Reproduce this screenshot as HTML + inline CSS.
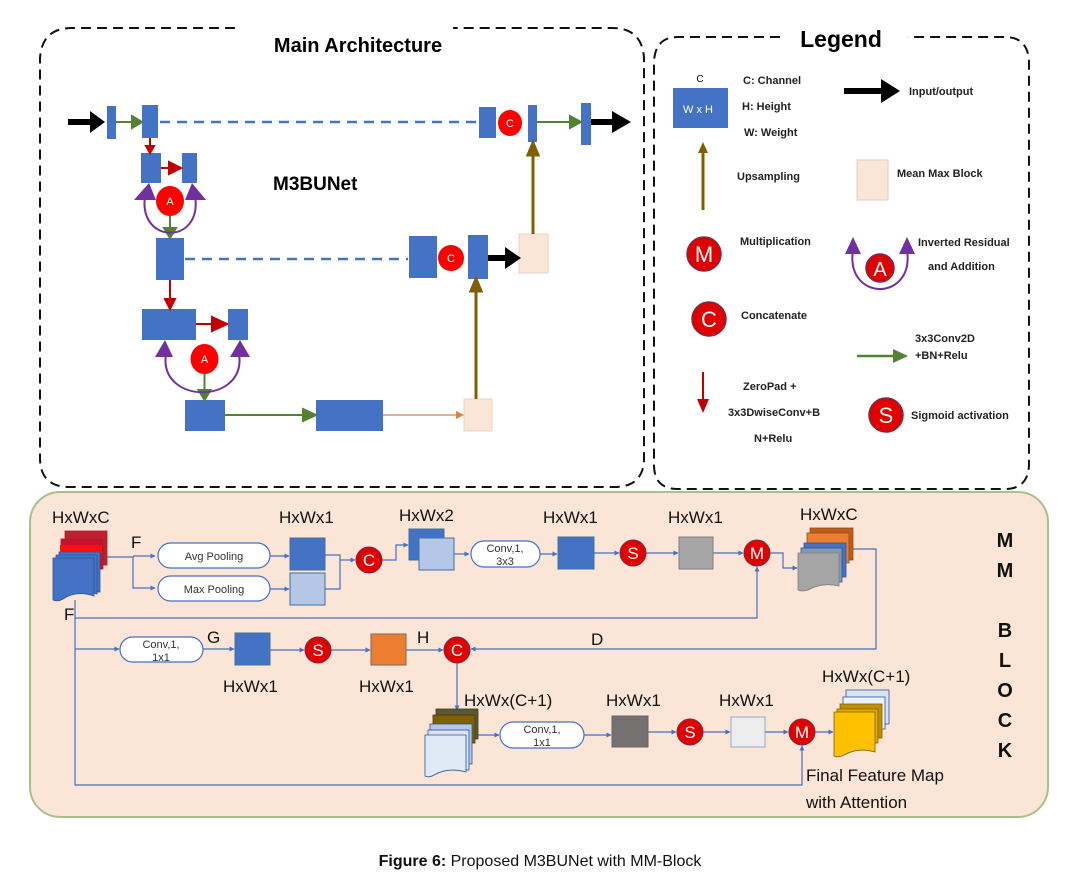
<!DOCTYPE html>
<html><head><meta charset="utf-8"><style>
html,body{margin:0;padding:0;background:#fff}
svg{display:block}
text{font-family:"Liberation Sans",sans-serif}
.b{font-weight:bold}
</style></head><body>
<svg width="1080" height="894" viewBox="0 0 1080 894" xmlns="http://www.w3.org/2000/svg">
<defs>
<marker id="ab" viewBox="0 0 10 10" refX="9" refY="5" markerWidth="5" markerHeight="5" orient="auto" markerUnits="userSpaceOnUse"><path d="M0,0L10,5L0,10z" fill="#4472c4"/></marker>
</defs>
<path d="M235,28 H72 Q42,28 40,58 V458 Q40,487 70,487 H614 Q644,487 644,458 V58 Q642,28 612,28 H453" fill="none" stroke="#111" stroke-width="2" stroke-dasharray="10,6"/>
<text x="358" y="52" text-anchor="middle" class="b" font-size="20">Main Architecture</text>
<path d="M780,37 H678 Q655,37 654,62 V465 Q654,489 678,489 H1005 Q1028,489 1029,465 V62 Q1028,37 1005,37 H908" fill="none" stroke="#111" stroke-width="2" stroke-dasharray="10,6"/>
<text x="841" y="47" text-anchor="middle" class="b" font-size="23">Legend</text>
<text x="273" y="190" class="b" font-size="19">M3BUNet</text>

<g fill="#4472c4">
<rect x="107" y="106" width="9" height="33"/>
<rect x="142" y="105" width="16" height="33"/>
<rect x="479" y="107" width="17" height="31"/>
<rect x="528" y="105" width="9" height="37"/>
<rect x="581" y="103" width="10" height="42"/>
<rect x="141" y="153" width="20" height="30"/>
<rect x="182" y="153" width="15" height="30"/>
<rect x="156" y="238" width="28" height="42"/>
<rect x="409" y="236" width="28" height="42"/>
<rect x="468" y="235" width="20" height="44"/>
<rect x="142" y="309" width="54" height="31"/>
<rect x="228" y="309" width="20" height="31"/>
<rect x="185" y="400" width="40" height="31"/>
<rect x="316" y="400" width="67" height="31"/>
</g>
<rect x="519" y="234" width="29" height="39" fill="#fbe5d6" stroke="#e8d4c4"/>
<rect x="464" y="399" width="28" height="32" fill="#fbe5d6" stroke="#e8d4c4"/>
<g stroke="#4472c4" stroke-width="2.5" stroke-dasharray="10,7">
<line x1="160" y1="122" x2="478" y2="122"/>
<line x1="185" y1="259" x2="408" y2="259"/>
</g>
<g fill="#000"><path d="M68,119H90V111L105,122L90,133V125H68z"/>
<path d="M591,119H612V111L631,122L612,133V125H591z"/>
<path d="M488,255H505V247L521,258L505,269V261H488z"/></g>
<g stroke="#548235" stroke-width="2" fill="#548235">
<line x1="116" y1="122" x2="134" y2="122"/><path d="M132,116L142,122L132,128z"/>
<line x1="537" y1="122" x2="572" y2="122"/><path d="M570,116L581,122L570,128z"/>
<line x1="170" y1="215" x2="170" y2="230"/><path d="M164,228L170,238L176,228z"/>
<line x1="204.5" y1="373" x2="204.5" y2="392"/><path d="M198.5,390L204.5,400L210.5,390z"/>
<line x1="225" y1="415" x2="305" y2="415"/><path d="M303,409L316,415L303,421z"/>
</g>
<g stroke="#c00000" stroke-width="2" fill="#c00000">
<line x1="150" y1="138" x2="150" y2="147"/><path d="M146,146L150,153L154,146z"/>
<line x1="161" y1="168" x2="170" y2="168"/><path d="M169,162L181,168L169,174z"/>
<line x1="170" y1="280" x2="170" y2="300"/><path d="M165,299L170,309L175,299z"/>
<line x1="196" y1="324" x2="214" y2="324"/><path d="M212,317L227,324L212,331z"/>
</g>
<line x1="383" y1="415" x2="458" y2="415" stroke="#c5835a" stroke-width="1.2"/><path d="M456,411L464,415L456,419z" fill="#ed7d31"/>
<g stroke="#7f6000" stroke-width="3" fill="#7f6000">
<line x1="533" y1="234" x2="533" y2="154"/><path d="M528,155L533,143L538,155z"/>
<line x1="476" y1="399" x2="476" y2="290"/><path d="M471,291L476,279L481,291z"/>
</g>
<g fill="none" stroke="#7030a0" stroke-width="2">
<path d="M145,196 C138,245 203,245 195,196"/>
<path d="M166,354 C158,405 247,405 239,354"/>
</g>
<g fill="#7030a0">
<path d="M134,200L149,183L156,200z"/><path d="M185,200L192,183L206,200z"/>
<path d="M155,357L165,340L173,357z"/><path d="M230,357L240,340L250,357z"/>
</g>
<g fill="#ff0000"><ellipse cx="170" cy="201" rx="14" ry="15"/><ellipse cx="204.5" cy="359" rx="14" ry="15"/>
<ellipse cx="510" cy="123" rx="12" ry="13"/><ellipse cx="451" cy="258" rx="13" ry="13"/></g>
<g fill="#fff" font-size="11" text-anchor="middle"><text x="170" y="205">A</text><text x="204.5" y="363">A</text><text x="510" y="127">C</text><text x="451" y="262">C</text></g>

<text x="700" y="82" font-size="10" text-anchor="middle">C</text>
<rect x="673" y="88" width="55" height="40" fill="#4472c4"/>
<text x="698" y="113" font-size="11" fill="#fff" text-anchor="middle">W x H</text>
<g class="b" font-size="11" fill="#222">
<text x="743" y="84">C: Channel</text><text x="742" y="110">H: Height</text><text x="744" y="136">W: Weight</text>
<text x="909" y="95">Input/output</text>
<text x="737" y="180">Upsampling</text>
<text x="897" y="177">Mean Max Block</text>
<text x="740" y="245">Multiplication</text>
<text x="918" y="246">Inverted Residual</text><text x="928" y="270">and Addition</text>
<text x="741" y="319">Concatenate</text>
<text x="915" y="342">3x3Conv2D</text><text x="915" y="359">+BN+Relu</text>
<text x="743" y="390">ZeroPad +</text><text x="728" y="416">3x3DwiseConv+B</text><text x="754" y="442">N+Relu</text>
<text x="911" y="419">Sigmoid activation</text>
</g>
<path d="M844,88H881V79L900,91L881,103V94H844z" fill="#000"/>
<line x1="703" y1="210" x2="703" y2="152" stroke="#7f6000" stroke-width="3"/><path d="M698,153L703,142L708,153z" fill="#7f6000"/>
<rect x="857" y="160" width="31" height="40" fill="#fbe5d6" stroke="#e0cfc2"/>
<line x1="857" y1="356" x2="895" y2="356" stroke="#548235" stroke-width="2.5"/><path d="M893,349L908,356L893,363z" fill="#548235"/>
<line x1="703" y1="372" x2="703" y2="400" stroke="#c00000" stroke-width="2"/><path d="M697,399L703,413L709,399z" fill="#c00000"/>
<path d="M853,250C845,302 915,302 907,250" fill="none" stroke="#7030a0" stroke-width="2"/>
<path d="M845,254L853,237L861,254z M899,254L907,237L915,254z" fill="#7030a0"/>
<g fill="#e00000" stroke="#7a2a4a" stroke-width="1.5">
<circle cx="704" cy="254" r="17"/><circle cx="709" cy="319" r="17"/><circle cx="880" cy="268" r="14"/><circle cx="886" cy="415" r="17"/>
</g>
<g fill="#fff" text-anchor="middle"><text x="704" y="262" font-size="22">M</text><text x="709" y="327" font-size="22">C</text><text x="880" y="276" font-size="20">A</text><text x="886" y="423" font-size="22">S</text></g>

<rect x="30" y="492" width="1018" height="325" rx="30" fill="#fbe5d6" stroke="#a9c08a" stroke-width="2"/>
<g font-size="17" fill="#111">
<text x="52" y="523">HxWxC</text><text x="279" y="523">HxWx1</text><text x="399" y="521">HxWx2</text>
<text x="543" y="523">HxWx1</text><text x="668" y="523">HxWx1</text><text x="800" y="520">HxWxC</text>
<text x="131" y="548">F</text><text x="64" y="620">F</text><text x="207" y="643">G</text><text x="417" y="643">H</text><text x="591" y="645">D</text>
<text x="223" y="692">HxWx1</text><text x="359" y="692">HxWx1</text>
<text x="464" y="706">HxWx(C+1)</text><text x="606" y="706">HxWx1</text><text x="719" y="706">HxWx1</text><text x="822" y="682">HxWx(C+1)</text>
<text x="806" y="781">Final Feature Map</text><text x="806" y="808">with Attention</text>
</g>
<g class="b" font-size="20" text-anchor="middle" fill="#111">
<text x="1005" y="547">M</text><text x="1005" y="577">M</text><text x="1005" y="637">B</text><text x="1005" y="667">L</text><text x="1005" y="697">O</text><text x="1005" y="727">C</text><text x="1005" y="757">K</text>
</g>
<g stroke="#a02030" stroke-width="0.8">
<rect x="65" y="531" width="42" height="34" fill="#c0202e"/>
<rect x="61" y="539" width="42" height="30" fill="#c8102e"/>
<rect x="60" y="545" width="42" height="8" fill="#ff1010" stroke="none"/>
</g>
<g stroke="#2f5597" stroke-width="0.8" fill="#4472c4">
<rect x="59" y="552" width="41" height="40"/>
<path d="M56,555H97V594Q80,588 66,597Q60,600 56,600z"/>
<path d="M53,558H94V596Q76,590 63,599Q58,602 53,600z"/>
</g>
<g stroke="#4472c4" stroke-width="1.2" fill="none">
<polyline points="107,557 133,557 133,588 155,588" marker-end="url(#ab)"/>
<line x1="133" y1="556" x2="155" y2="556" marker-end="url(#ab)"/>
<line x1="270" y1="556" x2="289" y2="556" marker-end="url(#ab)"/>
<line x1="270" y1="589" x2="289" y2="589" marker-end="url(#ab)"/>
<polyline points="325,555 340,555 340,589 325,589"/>
<line x1="340" y1="560" x2="355" y2="560" marker-end="url(#ab)"/>
<polyline points="382,560 396,560 396,545 408,545" marker-end="url(#ab)"/>
<line x1="454" y1="554" x2="469" y2="554" marker-end="url(#ab)"/>
<line x1="540" y1="554" x2="557" y2="554" marker-end="url(#ab)"/>
<line x1="594" y1="553" x2="619" y2="553" marker-end="url(#ab)"/>
<line x1="646" y1="553" x2="678" y2="553" marker-end="url(#ab)"/>
<line x1="713" y1="553" x2="743" y2="553" marker-end="url(#ab)"/>
<polyline points="770,553 783,553 783,568 797,568" marker-end="url(#ab)"/>
<polyline points="853,549 876,549 876,649 471,649" marker-end="url(#ab)"/>
<polyline points="75,600 75,785 802,785 802,746" marker-end="url(#ab)"/>
<polyline points="75,618 757,618 757,567" marker-end="url(#ab)"/>
<line x1="75" y1="649" x2="119" y2="649" marker-end="url(#ab)"/>
<line x1="203" y1="649" x2="234" y2="649" marker-end="url(#ab)"/>
<line x1="270" y1="650" x2="304" y2="650" marker-end="url(#ab)"/>
<line x1="331" y1="650" x2="370" y2="650" marker-end="url(#ab)"/>
<line x1="406" y1="650" x2="443" y2="650" marker-end="url(#ab)"/>
<line x1="457" y1="663" x2="457" y2="710" marker-end="url(#ab)"/>
<line x1="478" y1="735" x2="499" y2="735" marker-end="url(#ab)"/>
<line x1="584" y1="735" x2="611" y2="735" marker-end="url(#ab)"/>
<line x1="648" y1="732" x2="676" y2="732" marker-end="url(#ab)"/>
<line x1="703" y1="732" x2="730" y2="732" marker-end="url(#ab)"/>
<line x1="765" y1="732" x2="788" y2="732" marker-end="url(#ab)"/>
<line x1="815" y1="732" x2="833" y2="732" marker-end="url(#ab)"/>
</g>
<g fill="#fff" stroke="#4472c4" stroke-width="1.2">
<rect x="158" y="543" width="112" height="25" rx="12.5"/>
<rect x="158" y="576" width="112" height="25" rx="12.5"/>
<rect x="471" y="541" width="69" height="26" rx="13"/>
<rect x="120" y="637" width="83" height="25" rx="12.5"/>
<rect x="500" y="722" width="84" height="26" rx="13"/>
</g>
<g font-size="11" text-anchor="middle" fill="#333">
<text x="214" y="560">Avg Pooling</text><text x="214" y="593">Max Pooling</text>
<text x="505" y="552">Conv,1,</text><text x="505" y="565">3x3</text>
<text x="161" y="648">Conv,1,</text><text x="161" y="661">1x1</text>
<text x="542" y="733">Conv,1,</text><text x="542" y="746">1x1</text>
</g>
<g stroke="#41719c" stroke-width="1">
<rect x="290" y="538" width="35" height="32" fill="#4472c4"/>
<rect x="290" y="573" width="35" height="32" fill="#b4c7e7"/>
<rect x="409" y="529" width="35" height="31" fill="#4472c4"/>
<rect x="419" y="538" width="35" height="32" fill="#b4c7e7"/>
<rect x="558" y="537" width="36" height="32" fill="#4472c4"/>
<rect x="679" y="537" width="34" height="32" fill="#a5a5a5" stroke="#7f7f7f"/>
<rect x="235" y="633" width="35" height="32" fill="#4472c4"/>
<rect x="371" y="634" width="35" height="31" fill="#ed7d31" stroke="#7f6a5a"/>
<rect x="612" y="716" width="36" height="31" fill="#767171" stroke="#666"/>
<rect x="731" y="717" width="34" height="30" fill="#ededed" stroke="#8fa9d0"/>
</g>
<g stroke="#7f5030" stroke-width="0.8">
<rect x="810" y="528" width="43" height="32" fill="#c55a11"/>
<rect x="807" y="533" width="42" height="30" fill="#ed7d31"/>
</g>
<g stroke="#2f5597" stroke-width="0.8">
<rect x="804" y="543" width="42" height="34" fill="#4472c4"/>
<rect x="801" y="548" width="41" height="34" fill="#8497b0"/>
<path d="M798,553H839V586Q822,582 808,590Q802,592 798,590z" fill="#a5a5a5" stroke="#7f7f7f"/>
</g>
<g stroke="#3d3a20" stroke-width="0.8">
<rect x="436" y="709" width="42" height="30" fill="#595933"/>
<rect x="433" y="715" width="42" height="28" fill="#7f6000"/>
</g>
<g stroke="#2f5597" stroke-width="0.8">
<rect x="430" y="724" width="42" height="40" fill="#b4c7e7"/>
<rect x="428" y="730" width="41" height="40" fill="#dae3f3"/>
<path d="M425,735H466V772Q448,767 434,775Q429,778 425,776z" fill="#deebf7"/>
</g>
<g stroke="#2f5597" stroke-width="0.8">
<rect x="846" y="690" width="43" height="34" fill="#dae3f3"/>
<rect x="843" y="697" width="42" height="32" fill="#eef2f8"/>
</g>
<g stroke="#7f6000" stroke-width="0.8">
<rect x="840" y="704" width="42" height="34" fill="#bf9000"/>
<rect x="837" y="709" width="41" height="34" fill="#e0a800"/>
<path d="M834,712H875V752Q858,747 844,755Q838,758 834,756z" fill="#ffc000"/>
</g>
<g fill="#e00000" stroke="#7a2a4a" stroke-width="1">
<circle cx="369" cy="560" r="13"/><circle cx="633" cy="553" r="13"/><circle cx="757" cy="553" r="13"/>
<circle cx="318" cy="650" r="13"/><circle cx="457" cy="650" r="13"/>
<circle cx="690" cy="732" r="13"/><circle cx="802" cy="732" r="13"/>
</g>
<g fill="#fff" font-size="17" text-anchor="middle">
<text x="369" y="566">C</text><text x="633" y="559">S</text><text x="757" y="559">M</text>
<text x="318" y="656">S</text><text x="457" y="656">C</text><text x="690" y="738">S</text><text x="802" y="738">M</text>
</g>
<text x="540" y="866" text-anchor="middle" font-size="16" fill="#111"><tspan font-weight="bold">Figure 6:</tspan> Proposed M3BUNet with MM-Block</text>
</svg>
</body></html>
